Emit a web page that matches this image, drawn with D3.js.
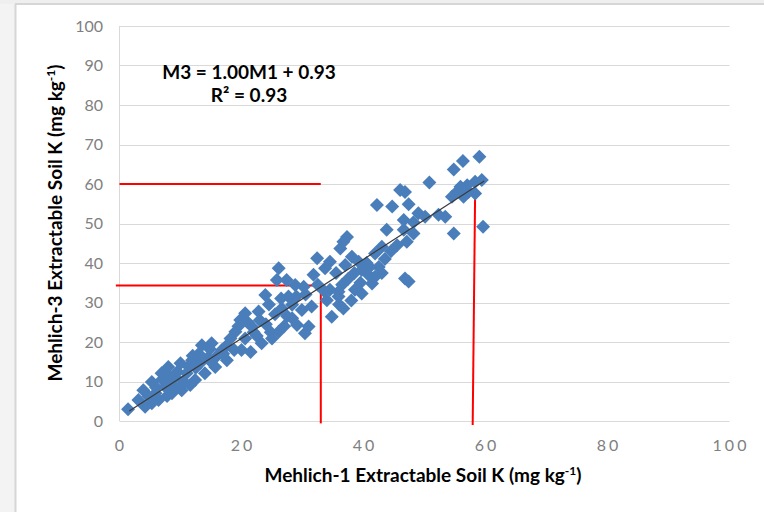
<!DOCTYPE html>
<meta charset="utf-8" />
<html>
<head>
    <style>
        body { margin: 0; background: #fff; }
        text { font-family: Lato, "Open Sans", sans-serif; }
        .grid line { stroke: #d9d9d9; stroke-width: 1; }
        .tick-y { fill: #808080; font-size: 16px; }
        .tick-x { fill: #808080; font-size: 16px; letter-spacing: 3px; }
        .title { fill: #000; font-size: 19px; font-weight: bold; }
    </style>
</head>
<body>
    <svg width="764" height="512"></svg>
    <script src="https://d3js.org/d3.v7.min.js"></script>
    <script>
        // scatter points: Mehlich-1 (x) vs Mehlich-3 (y)
        var m1 = [1.4, 3.1, 4.2, 3.9, 5.3, 6.9, 8.0, 10.0, 11.9, 13.5, 15.1, 16.8, 17.6, 13.2, 11.0, 10.2, 8.6, 6.4, 5.3, 9.1, 7.5, 5.9, 12.4, 14.0, 15.7, 11.6,
            7.0, 8.5, 9.5, 10.5, 12.5, 14.5, 16.0, 13.0, 6.0, 4.8, 8.0, 9.8, 11.3, 15.0, 17.0, 12.0, 14.8, 7.8,
            26.1, 27.4, 25.8, 28.8, 23.9, 30.2, 32.4, 33.7, 31.8, 35.9, 34.0, 34.8, 36.7, 30.4, 31.0, 29.1, 28.3, 26.1, 25.0, 23.3, 22.8, 20.6, 19.8, 21.7, 19.0, 18.2, 20.6, 28.3, 29.9, 27.7, 26.6,
            20.0, 21.5, 22.5, 24.0, 23.0, 25.5, 24.5, 26.5, 27.0, 29.0, 30.5, 31.5, 32.5, 33.5, 27.5, 21.0, 22.0, 24.8, 19.5, 18.8, 17.5,
            42.2, 43.8, 48.2, 43.0, 41.9, 37.3, 36.7, 36.2, 38.1, 39.2, 34.5, 46.8, 47.4, 40.8, 41.9, 39.7, 34.5, 35.9, 38.6, 39.7, 41.4,
            37.5, 38.5, 36.5, 40.5, 42.5, 43.5, 44.5, 45.5, 41.0, 37.0, 35.5, 39.5, 43.0, 36.0, 38.0,
            59.0, 56.3, 54.8, 50.8, 46.0, 46.8, 44.7, 47.4, 46.6, 49.0, 50.1, 48.2, 52.3, 53.4, 54.8, 59.6, 47.1, 46.6, 54.5, 55.9, 57.0, 58.3, 59.4, 56.4, 58.3, 57.2, 55.3];
        var m3 = [3.0, 5.3, 3.6, 7.8, 9.9, 12.1, 13.7, 14.6, 15.4, 19.2, 19.7, 18.0, 15.4, 14.6, 12.1, 7.8, 7.0, 5.3, 4.5, 11.2, 8.7, 7.0, 10.4, 12.1, 13.7, 9.1,
            10.5, 9.5, 12.5, 10.0, 13.5, 16.0, 16.5, 17.0, 8.5, 6.2, 11.5, 8.5, 13.8, 15.0, 17.0, 16.5, 18.2, 6.3,
            38.7, 35.7, 35.7, 34.4, 31.9, 34.0, 41.2, 38.7, 37.0, 32.7, 30.6, 26.4, 28.5, 22.2, 23.9, 24.3, 26.0, 22.6, 20.9, 19.7, 27.7, 27.3, 25.6, 23.9, 22.6, 20.9, 20.9, 29.4, 28.1, 31.5, 28.5,
            18.0, 17.5, 21.5, 24.5, 25.5, 27.0, 29.5, 31.0, 24.0, 31.5, 32.0, 29.0, 34.5, 33.0, 26.5, 25.0, 22.5, 22.5, 24.0, 18.0, 19.0,
            54.7, 48.4, 47.5, 44.1, 42.4, 46.6, 45.4, 43.7, 41.6, 40.3, 40.3, 36.1, 35.3, 37.0, 36.5, 38.2, 33.2, 31.5, 33.2, 32.3, 34.8,
            36.0, 37.5, 34.5, 40.0, 39.0, 41.0, 43.0, 44.5, 39.0, 39.5, 37.5, 35.0, 37.5, 29.5, 30.5,
            66.9, 65.8, 63.7, 60.4, 58.5, 58.0, 54.3, 54.9, 50.9, 52.6, 51.7, 50.3, 52.2, 51.7, 47.5, 49.2, 45.4, 48.4, 56.8, 59.3, 59.7, 60.6, 61.0, 56.8, 57.6, 58.0, 58.0];

        var xTicks = [0, 20, 40, 60, 80, 100];
        var yTicks = [0, 10, 20, 30, 40, 50, 60, 70, 80, 90, 100];

        // fitted line M3 = 1.00 M1 + 0.93 drawn over the data range
        var slope = 1.00, intercept = 0.93;
        var fitRange = [1.6, 59.8];

        // red reading lines (data units)
        var redLines = [
            [[0, 60], [33, 60]],
            [[-0.6, 34.3], [33, 34.3]],
            [[33, 34.3], [33, -0.6]],
            [[58.3, 58], [57.9, -1]]
        ];

        var svg = d3.select("svg");

        // frame around the chart
        svg.append("rect").attr("x", 0).attr("y", 0).attr("width", 15).attr("height", 512).attr("fill", "#f3f3f3");
        svg.append("rect").attr("x", 0).attr("y", 0).attr("width", 764).attr("height", 4).attr("fill", "#efefef");
        svg.append("line").attr("x1", 15).attr("x2", 764).attr("y1", 4).attr("y2", 4).attr("stroke", "#d6d6d6").attr("stroke-width", 2);
        svg.append("line").attr("x1", 15.5).attr("x2", 15.5).attr("y1", 4).attr("y2", 512).attr("stroke", "#d6d6d6").attr("stroke-width", 2);

        var x = d3.scaleLinear().domain([0, 100]).range([119.5, 729.5]);
        var y = d3.scaleLinear().domain([0, 100]).range([421, 26]);

        // horizontal grid
        svg.append("g").attr("class", "grid")
            .selectAll("line").data(yTicks).enter().append("line")
            .attr("x1", x(0)).attr("x2", x(100))
            .attr("y1", function (d) { return Math.round(y(d)) + 0.5; })
            .attr("y2", function (d) { return Math.round(y(d)) + 0.5; });
        svg.append("line").attr("x1", x(0)).attr("x2", x(0)).attr("y1", y(100)).attr("y2", y(0))
            .attr("stroke", "#d9d9d9");

        svg.append("g").selectAll("text").data(yTicks).enter().append("text")
            .attr("class", "tick-y")
            .attr("x", 103).attr("y", function (d) { return y(d); })
            .attr("dy", "0.36em").attr("text-anchor", "end")
            .text(function (d) { return d; });

        svg.append("g").selectAll("text").data(xTicks).enter().append("text")
            .attr("class", "tick-x")
            .attr("x", function (d) { return x(d) + 1.5; }).attr("y", 451)
            .attr("text-anchor", "middle")
            .text(function (d) { return d; });

        // red lines
        svg.append("g").selectAll("line").data(redLines).enter().append("line")
            .attr("x1", function (d) { return x(d[0][0]); })
            .attr("y1", function (d) { return y(d[0][1]); })
            .attr("x2", function (d) { return x(d[1][0]); })
            .attr("y2", function (d) { return y(d[1][1]); })
            .attr("stroke", "#ff0000").attr("stroke-width", 2);

        // points
        var diamond = "M0,-7L7,0L0,7L-7,0Z";
        svg.append("g").selectAll("path").data(d3.range(m1.length)).enter().append("path")
            .attr("d", diamond)
            .attr("transform", function (i) { return "translate(" + x(m1[i]) + "," + y(m3[i]) + ")"; })
            .attr("fill", "#4a7ebb");

        // trend line
        svg.append("line")
            .attr("x1", x(fitRange[0])).attr("y1", y(slope * fitRange[0] + intercept))
            .attr("x2", x(fitRange[1])).attr("y2", y(slope * fitRange[1] + intercept))
            .attr("stroke", "#3a3a3a").attr("stroke-width", 1.2);

        // equation
        svg.append("text").attr("class", "title")
            .attr("x", 249).attr("y", 79).attr("text-anchor", "middle")
            .text("M3 = 1.00M1 + 0.93");
        svg.append("text").attr("class", "title")
            .attr("x", 249).attr("y", 102).attr("text-anchor", "middle")
            .text("R² = 0.93");

        // axis titles
        var xt = svg.append("text").attr("class", "title")
            .attr("x", 423).attr("y", 482).attr("text-anchor", "middle");
        xt.append("tspan").text("Mehlich-1 Extractable Soil K (mg kg");
        xt.append("tspan").attr("dy", -7).style("font-size", "12px").text("-1");
        xt.append("tspan").attr("dy", 7).text(")");

        var yt = svg.append("text").attr("class", "title")
            .attr("transform", "translate(62,223) rotate(-90)").attr("text-anchor", "middle");
        yt.append("tspan").text("Mehlich-3 Extractable Soil K (mg kg");
        yt.append("tspan").attr("dy", -7).style("font-size", "12px").text("-1");
        yt.append("tspan").attr("dy", 7).text(")");
    </script>
</body>
</html>
